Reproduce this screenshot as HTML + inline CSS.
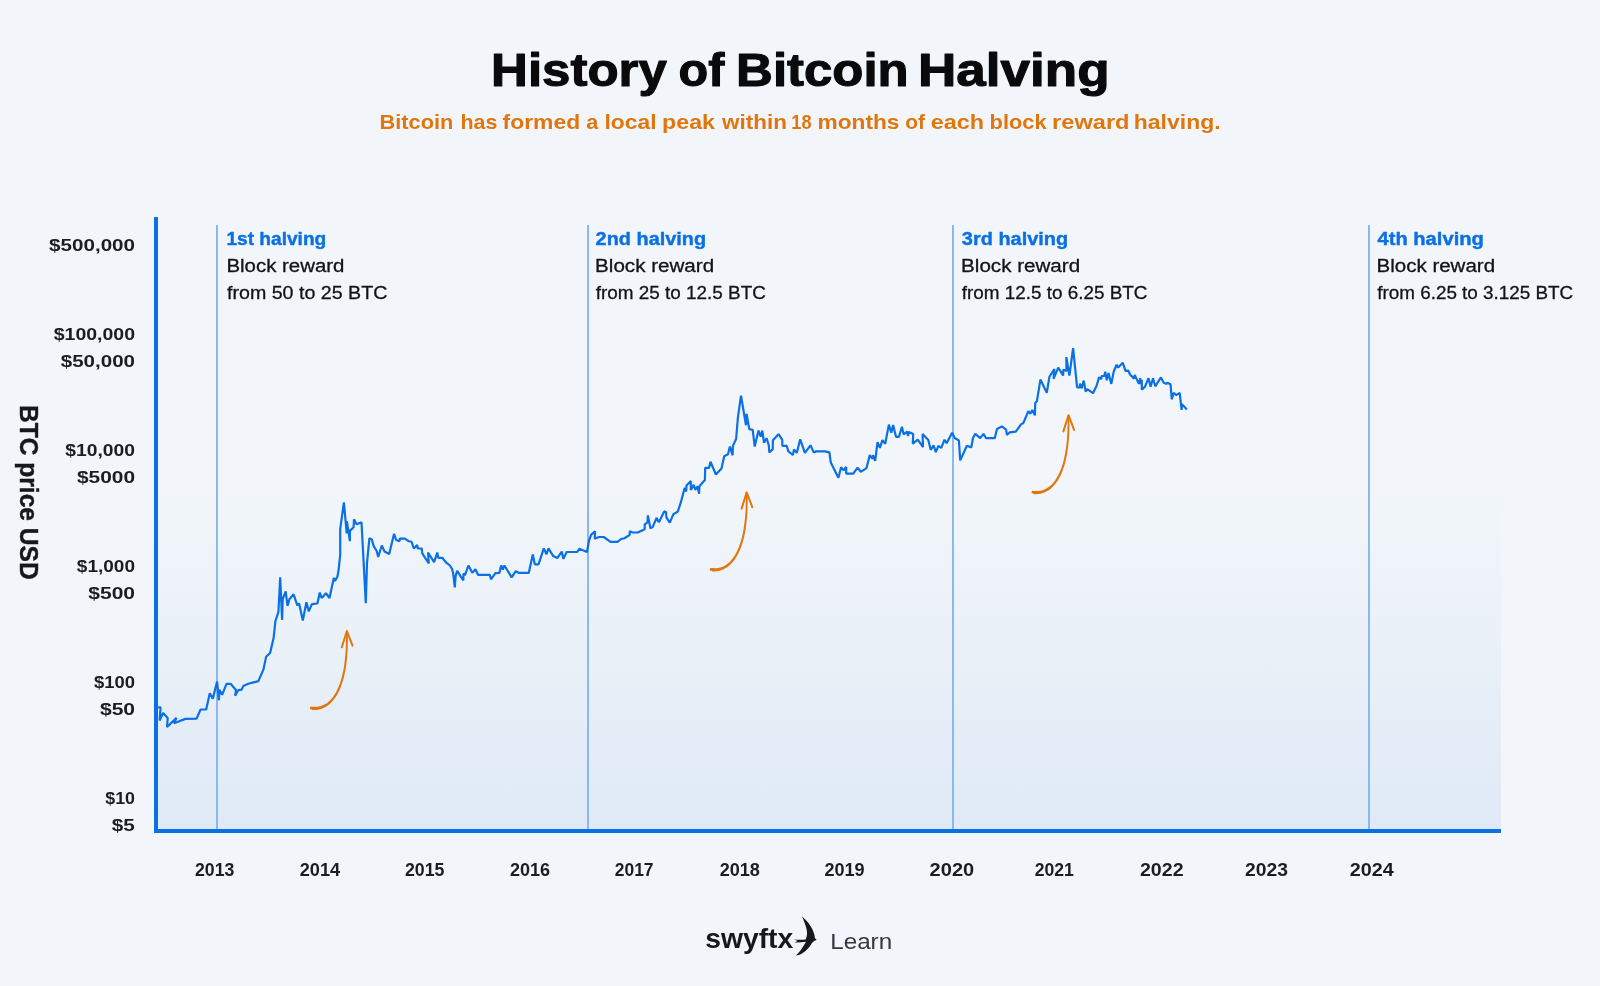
<!DOCTYPE html>
<html lang="en"><head><meta charset="utf-8"><title>History of Bitcoin Halving</title>
<style>
html,body{margin:0;padding:0;background:#f2f6fa;}
body{width:1600px;height:986px;overflow:hidden;}
svg{display:block;font-family:"Liberation Sans",sans-serif;will-change:transform;}
</style></head><body>
<svg width="1600" height="986" viewBox="0 0 1600 986">
<defs><linearGradient id="g" x1="0" y1="0" x2="0" y2="1">
<stop offset="0" stop-color="#dfeaf6" stop-opacity="0"/>
<stop offset="0.446" stop-color="#dfeaf6" stop-opacity="0"/>
<stop offset="1" stop-color="#dfeaf6" stop-opacity="1"/>
</linearGradient></defs>
<rect width="1600" height="986" fill="#f2f6fa"/>
<text y="86.1" font-size="47" font-weight="700" fill="#0a0a0c" stroke="#0a0a0c" stroke-width="1.1" stroke-linejoin="round"><tspan x="491.14" textLength="175.64" lengthAdjust="spacingAndGlyphs">History</tspan> <tspan x="678.61" textLength="45.79" lengthAdjust="spacingAndGlyphs">of</tspan> <tspan x="736.14" textLength="172.5" lengthAdjust="spacingAndGlyphs">Bitcoin</tspan> <tspan x="918.0" textLength="191.65" lengthAdjust="spacingAndGlyphs">Halving</tspan></text>
<text y="128.6" font-size="20.6" font-weight="700" fill="#e0760e"><tspan x="379.56" textLength="73.78" lengthAdjust="spacingAndGlyphs">Bitcoin</tspan> <tspan x="460.52" textLength="36.94" lengthAdjust="spacingAndGlyphs">has</tspan> <tspan x="502.61" textLength="77.5" lengthAdjust="spacingAndGlyphs">formed</tspan> <tspan x="586.37" textLength="12.08" lengthAdjust="spacingAndGlyphs">a</tspan> <tspan x="604.42" textLength="52.18" lengthAdjust="spacingAndGlyphs">local</tspan> <tspan x="662.09" textLength="52.87" lengthAdjust="spacingAndGlyphs">peak</tspan> <tspan x="722.07" textLength="64.93" lengthAdjust="spacingAndGlyphs">within</tspan> <tspan x="791.27" textLength="20.28" lengthAdjust="spacingAndGlyphs">18</tspan> <tspan x="817.52" textLength="81.98" lengthAdjust="spacingAndGlyphs">months</tspan> <tspan x="905.18" textLength="19.77" lengthAdjust="spacingAndGlyphs">of</tspan> <tspan x="930.69" textLength="53.37" lengthAdjust="spacingAndGlyphs">each</tspan> <tspan x="989.58" textLength="56.97" lengthAdjust="spacingAndGlyphs">block</tspan> <tspan x="1052.06" textLength="77.5" lengthAdjust="spacingAndGlyphs">reward</tspan> <tspan x="1133.82" textLength="86.75" lengthAdjust="spacingAndGlyphs">halving.</tspan></text>
<rect x="158" y="217" width="1343" height="612" fill="url(#g)"/>
<rect x="216" y="225" width="2" height="604" fill="#8bb9ee"/>
<rect x="587" y="225" width="2" height="604" fill="#8bb9ee"/>
<rect x="952" y="225" width="2" height="604" fill="#8bb9ee"/>
<rect x="1368" y="225" width="2" height="604" fill="#8bb9ee"/>
<rect x="154" y="217" width="4" height="616" fill="#0b70e4"/>
<rect x="154" y="829" width="1347" height="4" fill="#0b70e4"/>
<text x="49.13" y="251.0" font-size="17.3" font-weight="700" fill="#1a1d22" textLength="85.89" lengthAdjust="spacingAndGlyphs">$500,000</text>
<text x="53.75" y="340.0" font-size="17.3" font-weight="700" fill="#1a1d22" textLength="81.23" lengthAdjust="spacingAndGlyphs">$100,000</text>
<text x="60.73" y="367.0" font-size="17.3" font-weight="700" fill="#1a1d22" textLength="74.28" lengthAdjust="spacingAndGlyphs">$50,000</text>
<text x="65.35" y="456.0" font-size="17.3" font-weight="700" fill="#1a1d22" textLength="69.62" lengthAdjust="spacingAndGlyphs">$10,000</text>
<text x="76.93" y="483.0" font-size="17.3" font-weight="700" fill="#1a1d22" textLength="58.1" lengthAdjust="spacingAndGlyphs">$5000</text>
<text x="76.85" y="572.0" font-size="17.3" font-weight="700" fill="#1a1d22" textLength="58.12" lengthAdjust="spacingAndGlyphs">$1,000</text>
<text x="88.23" y="599.0" font-size="17.3" font-weight="700" fill="#1a1d22" textLength="46.83" lengthAdjust="spacingAndGlyphs">$500</text>
<text x="93.96" y="688.0" font-size="17.3" font-weight="700" fill="#1a1d22" textLength="40.99" lengthAdjust="spacingAndGlyphs">$100</text>
<text x="99.93" y="715.0" font-size="17.3" font-weight="700" fill="#1a1d22" textLength="35.13" lengthAdjust="spacingAndGlyphs">$50</text>
<text x="105.27" y="804.0" font-size="17.3" font-weight="700" fill="#1a1d22" textLength="29.65" lengthAdjust="spacingAndGlyphs">$10</text>
<text x="111.73" y="831.0" font-size="17.3" font-weight="700" fill="#1a1d22" textLength="23.03" lengthAdjust="spacingAndGlyphs">$5</text>
<text x="195.0" y="875.9" font-size="18" font-weight="700" fill="#1a1d22" textLength="39.38" lengthAdjust="spacingAndGlyphs">2013</text>
<text x="299.68" y="875.9" font-size="18" font-weight="700" fill="#1a1d22" textLength="40.42" lengthAdjust="spacingAndGlyphs">2014</text>
<text x="405.0" y="875.9" font-size="18" font-weight="700" fill="#1a1d22" textLength="39.49" lengthAdjust="spacingAndGlyphs">2015</text>
<text x="509.99" y="875.9" font-size="18" font-weight="700" fill="#1a1d22" textLength="40.05" lengthAdjust="spacingAndGlyphs">2016</text>
<text x="614.71" y="875.9" font-size="18" font-weight="700" fill="#1a1d22" textLength="38.86" lengthAdjust="spacingAndGlyphs">2017</text>
<text x="719.68" y="875.9" font-size="18" font-weight="700" fill="#1a1d22" textLength="40.27" lengthAdjust="spacingAndGlyphs">2018</text>
<text x="824.38" y="875.9" font-size="18" font-weight="700" fill="#1a1d22" textLength="40.28" lengthAdjust="spacingAndGlyphs">2019</text>
<text x="929.62" y="875.9" font-size="18" font-weight="700" fill="#1a1d22" textLength="44.6" lengthAdjust="spacingAndGlyphs">2020</text>
<text x="1034.7" y="875.9" font-size="18" font-weight="700" fill="#1a1d22" textLength="39.19" lengthAdjust="spacingAndGlyphs">2021</text>
<text x="1139.93" y="875.9" font-size="18" font-weight="700" fill="#1a1d22" textLength="43.64" lengthAdjust="spacingAndGlyphs">2022</text>
<text x="1244.94" y="875.9" font-size="18" font-weight="700" fill="#1a1d22" textLength="42.94" lengthAdjust="spacingAndGlyphs">2023</text>
<text x="1349.83" y="875.9" font-size="18" font-weight="700" fill="#1a1d22" textLength="44.03" lengthAdjust="spacingAndGlyphs">2024</text>
<text transform="translate(20.3,406.3) rotate(90)" x="-1.42" y="0" font-size="26" font-weight="700" fill="#15181d" stroke="#15181d" stroke-width="0.4" textLength="174.84" lengthAdjust="spacingAndGlyphs">BTC price USD</text>
<text x="226.41" y="244.8" font-size="18.3" font-weight="700" fill="#0b70e4" textLength="99.86" lengthAdjust="spacingAndGlyphs" stroke="#0b70e4" stroke-width="0.4">1st halving</text>
<text x="226.43" y="272.0" font-size="18" font-weight="400" fill="#111317" textLength="117.98" lengthAdjust="spacingAndGlyphs" stroke="#111317" stroke-width="0.3">Block reward</text>
<text x="227.03" y="298.8" font-size="18.5" font-weight="400" fill="#111317" textLength="160.3" lengthAdjust="spacingAndGlyphs" stroke="#111317" stroke-width="0.3">from 50 to 25 BTC</text>
<text x="595.62" y="244.8" font-size="18.3" font-weight="700" fill="#0b70e4" textLength="110.51" lengthAdjust="spacingAndGlyphs" stroke="#0b70e4" stroke-width="0.4">2nd halving</text>
<text x="595.11" y="272.0" font-size="18" font-weight="400" fill="#111317" textLength="119.0" lengthAdjust="spacingAndGlyphs" stroke="#111317" stroke-width="0.3">Block reward</text>
<text x="595.74" y="298.8" font-size="18.5" font-weight="400" fill="#111317" textLength="170.16" lengthAdjust="spacingAndGlyphs" stroke="#111317" stroke-width="0.3">from 25 to 12.5 BTC</text>
<text x="961.86" y="244.8" font-size="18.3" font-weight="700" fill="#0b70e4" textLength="106.26" lengthAdjust="spacingAndGlyphs" stroke="#0b70e4" stroke-width="0.4">3rd halving</text>
<text x="961.11" y="272.0" font-size="18" font-weight="400" fill="#111317" textLength="119.0" lengthAdjust="spacingAndGlyphs" stroke="#111317" stroke-width="0.3">Block reward</text>
<text x="961.74" y="298.8" font-size="18.5" font-weight="400" fill="#111317" textLength="185.76" lengthAdjust="spacingAndGlyphs" stroke="#111317" stroke-width="0.3">from 12.5 to 6.25 BTC</text>
<text x="1377.5" y="244.8" font-size="18.3" font-weight="700" fill="#0b70e4" textLength="106.34" lengthAdjust="spacingAndGlyphs" stroke="#0b70e4" stroke-width="0.4">4th halving</text>
<text x="1376.62" y="272.0" font-size="18" font-weight="400" fill="#111317" textLength="118.44" lengthAdjust="spacingAndGlyphs" stroke="#111317" stroke-width="0.3">Block reward</text>
<text x="1377.24" y="298.8" font-size="18.5" font-weight="400" fill="#111317" textLength="195.96" lengthAdjust="spacingAndGlyphs" stroke="#111317" stroke-width="0.3">from 6.25 to 3.125 BTC</text>
<path d="M158.1 707.4 L160.6 707.4 L159.6 720.6 L163.1 713.0 L167.7 718.1 L167.0 727.0 L176.5 717.9 L174.0 723.2 L185.4 718.9 L196.6 718.6 L200.6 709.5 L206.2 709.5 L209.8 693.2 L212.8 698.8 L217.1 681.6 L218.9 700.3 L219.4 689.7 L222.1 694.8 L226.5 683.8 L230.6 683.8 L236.1 690.2 L235.1 695.6 L238.2 690.2 L241.7 689.7 L243.2 686.1 L248.3 683.8 L258.4 681.1 L263.5 669.4 L266.1 656.7 L270.1 653.0 L273.1 640.0 L273.6 638.1 L275.4 621.1 L278.4 612.0 L280.2 577.3 L282.1 619.9 L282.7 599.2 L285.7 591.3 L287.5 605.9 L289.4 599.2 L293.6 594.3 L297.3 605.3 L299.1 603.5 L302.8 620.5 L306.4 602.2 L308.8 611.4 L311.9 604.1 L317.4 603.5 L319.8 592.5 L321.6 598.0 L323.4 596.2 L325.9 593.1 L329.5 598.0 L333.8 577.9 L335.0 580.9 L337.4 576.7 L338.6 570.0 L340.2 554.6 L340.2 529.1 L343.9 502.3 L346.7 533.3 L346.9 521.2 L349.9 541.2 L349.9 530.9 L353.6 527.2 L354.0 519.3 L356.6 524.2 L361.5 522.4 L365.8 603.3 L367.0 563.1 L369.4 538.2 L371.8 539.4 L373.7 546.1 L376.7 551.0 L378.2 557.0 L381.8 545.5 L384.6 551.6 L389.2 554.0 L394.0 533.9 L396.2 540.0 L399.5 541.2 L399.8 538.6 L404.7 538.6 L408.9 541.2 L411.6 541.8 L413.8 548.5 L417.2 544.9 L417.7 548.3 L421.7 548.5 L422.3 553.4 L425.0 557.7 L428.8 563.5 L428.0 552.5 L434.1 562.2 L437.3 552.5 L438.2 557.8 L442.2 557.8 L446.3 562.7 L449.9 565.5 L452.0 568.8 L453.2 573.6 L454.8 587.4 L455.6 576.1 L457.2 570.8 L463.3 580.5 L463.5 573.6 L465.0 575.2 L468.4 565.5 L472.3 572.8 L475.5 569.2 L478.0 574.8 L489.8 574.8 L491.0 579.3 L495.4 573.2 L499.5 572.8 L501.1 565.5 L502.8 569.6 L504.4 565.5 L511.7 577.3 L515.8 571.2 L518.6 572.8 L528.8 572.8 L532.8 554.5 L534.8 564.3 L538.5 564.3 L543.8 548.4 L546.4 554.4 L548.4 548.3 L553.3 556.1 L557.3 558.1 L561.8 551.6 L563.4 558.9 L566.7 552.0 L577.2 552.0 L579.3 548.8 L587.0 552.0 L589.0 540.6 L591.1 534.9 L595.1 531.3 L594.7 538.6 L599.2 537.0 L603.7 537.0 L610.6 541.8 L617.5 541.8 L621.1 539.0 L624.4 538.2 L629.7 534.9 L629.7 531.3 L632.5 532.5 L637.8 532.5 L644.7 529.2 L644.7 524.4 L647.5 522.3 L647.9 515.4 L650.4 528.4 L652.8 526.8 L656.5 517.9 L658.9 522.3 L664.2 511.4 L666.0 512.0 L666.4 517.4 L669.8 522.7 L673.3 514.3 L677.8 511.6 L680.9 502.2 L684.7 487.7 L686.2 491.5 L686.5 485.4 L690.8 480.9 L690.8 490.0 L693.8 484.7 L695.3 490.0 L697.6 486.2 L699.1 493.8 L699.4 486.2 L704.9 480.1 L705.2 467.9 L709.0 467.9 L710.5 461.8 L715.9 474.5 L721.5 468.4 L724.2 456.2 L728.0 454.2 L729.9 446.6 L732.6 455.3 L732.9 445.9 L736.1 439.0 L737.9 417.7 L741.0 395.7 L746.0 425.3 L746.6 413.9 L749.3 429.1 L752.7 429.9 L754.7 446.6 L758.5 430.6 L760.7 436.7 L762.3 430.6 L764.0 442.8 L766.6 438.2 L768.8 445.3 L769.3 452.4 L772.7 449.4 L772.9 440.3 L778.5 434.2 L782.3 439.8 L782.3 445.8 L786.7 445.8 L788.4 451.4 L792.9 455.0 L794.0 449.4 L796.8 452.9 L800.2 439.3 L804.9 452.9 L810.5 445.3 L813.7 452.4 L816.3 451.4 L824.9 451.4 L829.4 452.4 L830.8 462.6 L838.4 477.8 L841.1 467.3 L843.6 470.2 L846.2 466.9 L846.2 473.7 L853.3 473.7 L857.6 467.7 L860.8 471.8 L866.5 468.1 L869.8 455.1 L872.6 458.8 L873.0 455.1 L875.2 460.8 L877.5 442.1 L879.9 447.8 L882.4 440.1 L885.2 443.7 L888.9 424.6 L891.3 432.8 L893.1 425.0 L896.0 436.8 L899.0 436.8 L901.9 426.7 L903.7 434.4 L907.2 431.5 L908.0 436.0 L908.8 431.9 L913.2 434.0 L912.8 443.7 L917.7 439.7 L923.0 447.0 L922.6 434.0 L928.3 440.1 L930.7 449.8 L933.6 445.3 L935.8 452.2 L938.4 445.8 L941.3 447.8 L944.5 439.7 L946.6 443.3 L952.1 432.8 L954.7 438.0 L958.9 440.5 L960.2 460.4 L966.9 445.8 L971.3 447.4 L973.0 438.0 L975.3 433.9 L980.2 438.2 L983.5 433.9 L986.1 438.2 L994.7 438.2 L997.0 429.0 L1001.9 426.4 L1006.1 429.7 L1006.9 434.9 L1009.8 432.3 L1015.8 431.6 L1021.0 424.4 L1023.3 423.1 L1028.3 411.2 L1030.3 413.8 L1032.3 409.9 L1034.9 415.4 L1035.2 403.0 L1036.9 401.3 L1040.4 379.6 L1046.8 392.7 L1049.4 376.9 L1054.4 369.0 L1053.6 378.9 L1058.2 367.7 L1063.2 375.6 L1063.2 369.7 L1066.5 371.0 L1066.3 357.1 L1069.4 375.6 L1073.1 348.2 L1077.1 387.5 L1079.7 387.5 L1080.0 383.5 L1081.7 388.3 L1083.7 380.6 L1085.7 391.6 L1087.3 389.2 L1093.0 393.2 L1096.7 385.5 L1099.0 377.4 L1101.4 379.0 L1101.6 376.2 L1104.4 375.8 L1105.2 371.7 L1106.8 380.2 L1108.5 372.9 L1111.3 383.9 L1113.8 371.3 L1116.6 364.8 L1118.2 367.6 L1122.8 362.8 L1125.5 370.9 L1128.4 370.7 L1130.0 374.5 L1134.1 378.6 L1134.7 374.9 L1138.9 383.9 L1140.2 378.2 L1140.7 383.9 L1141.8 379.8 L1141.8 389.6 L1145.0 386.7 L1148.5 378.2 L1150.6 386.7 L1153.0 378.2 L1155.3 386.3 L1160.9 377.4 L1163.7 382.7 L1166.6 383.9 L1167.4 382.7 L1170.5 384.3 L1171.8 399.3 L1173.7 392.8 L1176.3 395.2 L1179.7 392.8 L1181.6 409.9 L1182.0 404.2 L1186.9 409.5" fill="none" stroke="#0b70e4" stroke-width="2.2" stroke-linejoin="bevel" stroke-linecap="butt"/>
<g transform="translate(346.9,630.6)"><path d="M-37.1 78.2L-35.6 78.8L-33.9 79.4L-31.9 79.4L-29.9 79.3L-27.8 78.9L-25.7 78.3L-23.5 77.5L-21.3 76.3L-19.1 74.9L-16.9 73.1L-14.8 71.0L-12.7 68.5L-10.7 65.6L-8.8 62.3L-7.0 58.6L-5.4 54.4L-3.8 49.7L-2.5 44.4L-1.3 38.7L-0.4 32.3L0.3 25.4L0.8 17.9L1.0 9.7L0.9 0.8L-0.9 0.8L-0.9 9.6L-1.1 17.8L-1.6 25.2L-2.4 32.1L-3.3 38.3L-4.5 44.0L-5.8 49.1L-7.3 53.6L-9.0 57.7L-10.7 61.3L-12.6 64.4L-14.5 67.1L-16.5 69.4L-18.5 71.3L-20.5 72.8L-22.6 74.0L-24.6 74.9L-26.5 75.6L-28.4 76.0L-30.2 76.2L-31.9 76.2L-33.5 76.1L-35.0 76.1L-36.5 76.0Z" fill="#e0760e" stroke="none"/><path d="M-5.1 16.6L0 0.4L5.6 15.1" fill="none" stroke="#e0760e" stroke-width="2" stroke-linecap="round" stroke-linejoin="round"/></g>
<g transform="translate(746.7,492)"><path d="M-37.1 78.2L-35.6 78.8L-33.9 79.4L-31.9 79.4L-29.9 79.3L-27.8 78.9L-25.7 78.3L-23.5 77.5L-21.3 76.3L-19.1 74.9L-16.9 73.1L-14.8 71.0L-12.7 68.5L-10.7 65.6L-8.8 62.3L-7.0 58.6L-5.4 54.4L-3.8 49.7L-2.5 44.4L-1.3 38.7L-0.4 32.3L0.3 25.4L0.8 17.9L1.0 9.7L0.9 0.8L-0.9 0.8L-0.9 9.6L-1.1 17.8L-1.6 25.2L-2.4 32.1L-3.3 38.3L-4.5 44.0L-5.8 49.1L-7.3 53.6L-9.0 57.7L-10.7 61.3L-12.6 64.4L-14.5 67.1L-16.5 69.4L-18.5 71.3L-20.5 72.8L-22.6 74.0L-24.6 74.9L-26.5 75.6L-28.4 76.0L-30.2 76.2L-31.9 76.2L-33.5 76.1L-35.0 76.1L-36.5 76.0Z" fill="#e0760e" stroke="none"/><path d="M-5.1 16.6L0 0.4L5.6 15.1" fill="none" stroke="#e0760e" stroke-width="2" stroke-linecap="round" stroke-linejoin="round"/></g>
<g transform="translate(1068.5,414.8)"><path d="M-37.1 78.2L-35.6 78.8L-33.9 79.4L-31.9 79.4L-29.9 79.3L-27.8 78.9L-25.7 78.3L-23.5 77.5L-21.3 76.3L-19.1 74.9L-16.9 73.1L-14.8 71.0L-12.7 68.5L-10.7 65.6L-8.8 62.3L-7.0 58.6L-5.4 54.4L-3.8 49.7L-2.5 44.4L-1.3 38.7L-0.4 32.3L0.3 25.4L0.8 17.9L1.0 9.7L0.9 0.8L-0.9 0.8L-0.9 9.6L-1.1 17.8L-1.6 25.2L-2.4 32.1L-3.3 38.3L-4.5 44.0L-5.8 49.1L-7.3 53.6L-9.0 57.7L-10.7 61.3L-12.6 64.4L-14.5 67.1L-16.5 69.4L-18.5 71.3L-20.5 72.8L-22.6 74.0L-24.6 74.9L-26.5 75.6L-28.4 76.0L-30.2 76.2L-31.9 76.2L-33.5 76.1L-35.0 76.1L-36.5 76.0Z" fill="#e0760e" stroke="none"/><path d="M-5.1 16.6L0 0.4L5.6 15.1" fill="none" stroke="#e0760e" stroke-width="2" stroke-linecap="round" stroke-linejoin="round"/></g>

<text x="705.2" y="948.4" font-size="28.5" font-weight="700" fill="#15181d" textLength="88" lengthAdjust="spacingAndGlyphs">swyftx</text>
<path fill="#15181d" d="M801.9 916.5C806.5 919.8 812.6 927.2 814.3 934.6C814.6 935.9 814.8 937.1 814.9 937.9L816.7 940L814 940.9C813.2 941.9 812.6 942.5 811.9 943.1C810 947 806.2 951.2 801.6 953.8C799.6 954.8 797.6 955.3 795.8 955.4C799.2 952.6 803 947.3 806 941.7C803 942.1 799 942.4 794.7 942.6L797.6 941L794.1 939.4C798 939.9 802.4 939.9 805.5 939.4C806.9 937.4 807.6 933.2 806.6 929.3C805.7 925.3 804 920.5 801.9 916.5Z"/>
<text x="830.2" y="948.8" font-size="22.4" font-weight="400" fill="#34373e" textLength="62" lengthAdjust="spacingAndGlyphs">Learn</text>

</svg>
</body></html>
